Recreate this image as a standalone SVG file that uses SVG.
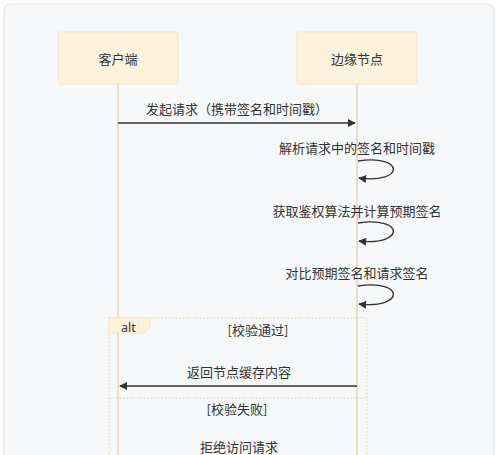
<svg xmlns="http://www.w3.org/2000/svg" width="500" height="455" viewBox="0 0 500 455">
<defs>
<style>
.t{font-family:"Noto Sans CJK SC","Noto Sans",sans-serif;font-size:13px;fill:#333;text-anchor:middle;dominant-baseline:central}
.actor{fill:#fdf3dd;stroke:#f3e7cb;stroke-width:1}
.life{stroke:#e8d8bd;stroke-width:1.7;fill:none}
.msg{stroke:#333;stroke-width:1.4;fill:none}
.frame{fill:none;stroke:#ecdcc0;stroke-width:1.3;stroke-dasharray:1.5 2}
</style>
<marker id="ah" viewBox="0 0 10 10" refX="9" refY="5" markerWidth="8" markerHeight="8" markerUnits="userSpaceOnUse" orient="auto">
<path d="M0,0 L10,5 L0,10 z" fill="#333"/>
</marker>
</defs>
<rect x="4" y="4" width="490" height="470" rx="7" fill="#f6f8fa" stroke="#e3e5e8" stroke-width="1.2"/>
<g id="lifelines">
<line class="life" x1="118" y1="84" x2="118" y2="455"/>
<line class="life" x1="357" y1="84" x2="357" y2="455"/>
</g>
<g id="client">
<rect class="actor" x="58" y="32" width="120" height="52" rx="2"/>
<text class="t" x="118" y="58">客户端</text>
</g>
<g id="edge">
<rect class="actor" x="297" y="32" width="120" height="52" rx="2"/>
<text class="t" x="357" y="58">边缘节点</text>
</g>
<g id="alt">
<rect class="frame" x="109" y="318" width="258" height="150"/>
<line class="frame" x1="109" y1="398" x2="367" y2="398"/>
<polygon points="109,318 150,318 150,327 144,333 109,333" fill="#fdf3dd" stroke="#f3e7cb" stroke-width="1"/>
<text x="121" y="327.5" style="font-family:'Noto Sans',sans-serif;font-size:12.5px;fill:#333;dominant-baseline:central">alt</text>
<text class="t" x="258" y="329">[校验通过]</text>
<text class="t" x="237" y="408">[校验失败]</text>
</g>
<g id="connectors">
<line class="msg" x1="118" y1="123" x2="355" y2="123" marker-end="url(#ah)"/>
<path class="msg" d="M358,161 C405,154 405,184 359,178" marker-end="url(#ah)"/>
<path class="msg" d="M358,223 C405,216 405,246 359,241" marker-end="url(#ah)"/>
<path class="msg" d="M358,286 C405,279 405,309 359,304" marker-end="url(#ah)"/>
<line class="msg" x1="357" y1="386" x2="120" y2="386" marker-end="url(#ah)"/>
</g>
<g id="labels">
<text class="t" x="237" y="108">发起请求（携带签名和时间戳）</text>
<text class="t" x="357" y="147">解析请求中的签名和时间戳</text>
<text class="t" x="357" y="210">获取鉴权算法并计算预期签名</text>
<text class="t" x="357" y="272">对比预期签名和请求签名</text>
<text class="t" x="239" y="371">返回节点缓存内容</text>
<text class="t" x="239" y="446">拒绝访问请求</text>
</g>
</svg>
